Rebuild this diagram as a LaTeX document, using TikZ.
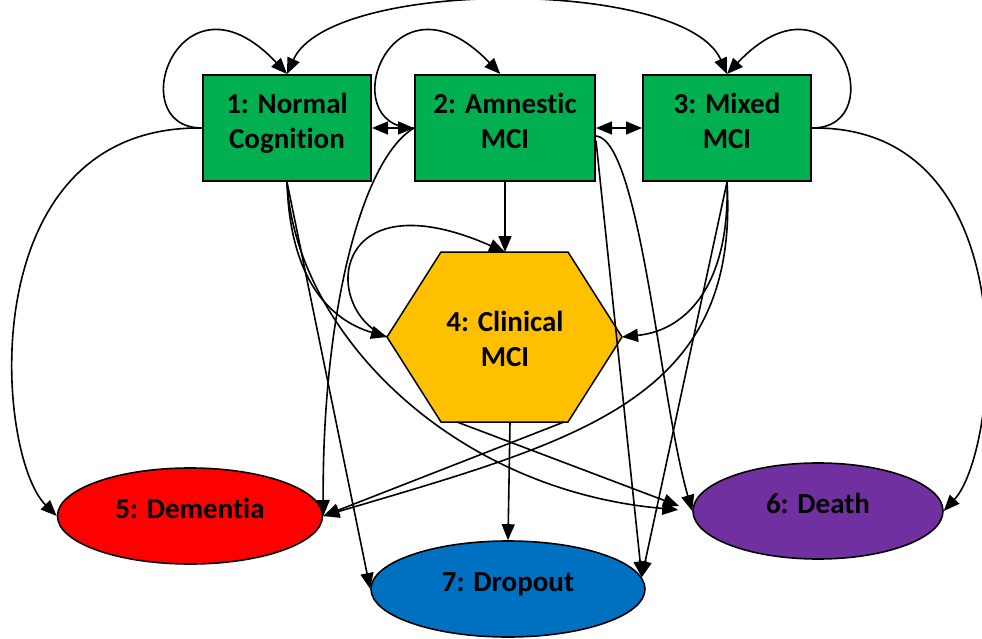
\documentclass[tikz,border=0pt]{standalone}
\usepackage{fontspec}
\setmainfont{Carlito}[Ligatures=NoCommon]
\usetikzlibrary{arrows.meta,shapes.geometric}
\definecolor{boxgreen}{HTML}{00B050}
\definecolor{hexgold}{HTML}{FFC000}
\definecolor{demred}{HTML}{FF0000}
\definecolor{deathpurple}{HTML}{7030A0}
\definecolor{dropblue}{HTML}{0070C0}
\begin{document}
\begin{tikzpicture}[x=1pt,y=-1pt,
  lbl/.style={font=\fontsize{29}{35}\selectfont\bfseries, align=center},
  stbox/.style={draw=black, line width=2pt, fill=boxgreen, minimum height=106pt, inner sep=0pt},
  oval/.style={lbl, ellipse, draw=black, line width=1.6pt, minimum height=96pt, text height=12pt, text depth=8pt, inner sep=0pt},
  arr/.style={line width=1.6pt, -{Triangle[length=16pt,width=13pt]}},
  darr/.style={line width=1.6pt, {Triangle[length=16pt,width=13pt]}-{Triangle[length=16pt,width=13pt]}}
]
\useasboundingbox (0,0) rectangle (982,639);

% state boxes
\node[stbox, minimum width=168pt] (n1) at (287,128) {};
\node[stbox, minimum width=180pt] (n2) at (505,128) {};
\node[stbox, minimum width=168pt] (n3) at (727,128) {};
\node[lbl] (t1) at (287,123) {1: Normal\\Cognition};
\node[lbl] (t2) at (505,121) {2: Amnestic\\MCI};
\node[lbl] (t3) at (727,121) {3: Mixed\\MCI};

% hexagon
\coordinate (h1) at (441,252);
\coordinate (h2) at (568,252);
\coordinate (hr) at (622,337);
\coordinate (h4) at (568,422);
\coordinate (h5) at (441,422);
\coordinate (hl) at (387,337);
\coordinate (htop) at (505,252);
\coordinate (hbot) at (510,422);
\coordinate (hbl) at (457,422);
\coordinate (hbr) at (564,422);
\draw[line width=1.5pt, fill=hexgold] (h1) -- (h2) -- (hr) -- (h4) -- (h5) -- (hl) -- cycle;
\node[lbl] (n4) at (505,339) {4: Clinical\\MCI};

% absorbing states
\node[oval, fill=demred, minimum width=265pt] (n5) at (190,516) {5: Dementia};
\node[oval, fill=deathpurple, minimum width=250pt] (n6) at (818,511) {6: Death};
\node[oval, fill=dropblue, minimum width=274pt] (n7) at (508,589) {7: Dropout};

% self loops
\draw[arr] (n1.west) .. controls (120,128) and (180,-40) .. (n1.north);
\draw[arr] (n2.west) .. controls (331,128) and (391,-40) .. (n2.95);
\draw[arr] (n3.east) .. controls (894,128) and (835,-40) .. (n3.north);
\draw[arr] (hl) .. controls (320,310) and (330,175) .. (htop);

% transitions among the MCI states
\draw[darr] (n1.north) .. controls (330,-22) and (685,-22) .. (n3.north);
\draw[darr] (n1.east) -- (n2.west);
\draw[darr] (n2.east) -- (n3.west);
\draw[arr] (n2.south) -- (htop);
\draw[arr] (n1.south) .. controls (290,280) and (330,320) .. (hl);
\draw[arr] (n3.south) .. controls (730,280) and (690,330) .. (hr);

% to dementia
\draw[arr] (n1.west) .. controls (-30,125) and (-5,455) .. (n5.west);
\draw[arr] (n2.west) .. controls (360,160) and (322,320) .. (n5.east);
\draw[arr] (n3.south) .. controls (740,400) and (580,440) .. (n5.east);
\draw[arr] (hbr) -- (n5.east);

% to death
\draw[arr] (n3.east) .. controls (1030,125) and (1000,450) .. (n6.east);
\draw[arr, shorten >=14pt] (n1.south) .. controls (295,330) and (450,490) .. (n6.west);
\draw[arr, shorten >=14pt] (hbl) -- (n6.west);
\draw[arr] (n2.-5) .. controls (640,140) and (660,400) .. (n6.west);

% to dropout
\draw[arr] (n1.south) -- (n7.west);
\draw[arr] (n2.-8) -- (n7.5);
\draw[arr] (n3.south) -- (n7.5);
\draw[arr] (hbot) -- (n7.north);
\end{tikzpicture}
\end{document}
